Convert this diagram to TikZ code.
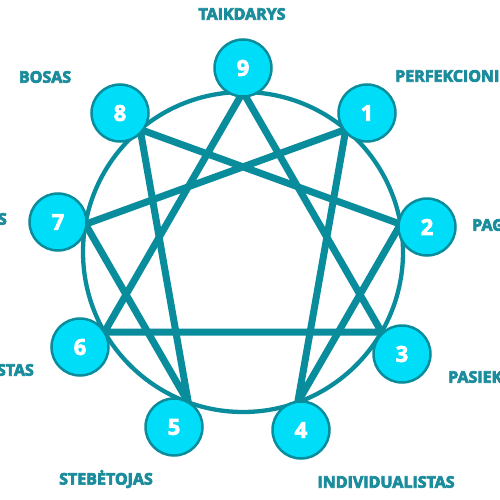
\documentclass[tikz,border=0pt]{standalone}
\usepackage{fontspec}
\setmainfont{Open Sans}
\newcommand{\emb}[1]{\special{pdf:literal direct 2 Tr 0.7 w}#1\special{pdf:literal direct 0 Tr}}
\definecolor{teal1}{HTML}{098D9C}
\definecolor{txt}{HTML}{1A8C9B}
\definecolor{cyan1}{HTML}{00DDF8}
\tikzset{
  num/.style={circle, draw=teal1, line width=2.5pt, fill=cyan1, minimum size=57pt, inner sep=0pt, text=white, font=\bfseries\fontsize{22}{22}\selectfont},
  lbl/.style={text=txt, font=\bfseries\fontsize{16}{16}\selectfont, inner sep=0pt},
  star/.style={draw=teal1, line width=7pt, line join=round, line cap=round},
  ring/.style={draw=teal1, line width=4.3pt}
}
\begin{document}
\begin{tikzpicture}[x=1pt,y=-1pt]
\useasboundingbox (0,0) rectangle (500,500);
\clip (0,0) rectangle (500,500);
\fill[white] (0,0) rectangle (500,500);
% vertices on the ring
\foreach \k in {0,...,8} {
  \coordinate (v\k) at ({243+160*cos(90-40*\k)}, {252-160*sin(90-40*\k)});
}
\coordinate (ctr) at (243,252);
\node[ring, circle, minimum size=320pt, inner sep=0pt] (ringnode) at (ctr) {};
% triangle 3-6-9
\draw[star] (v0) -- (v3) -- (v6) -- cycle;
% hexad 1-4-2-8-5-7-1
\draw[star] (v1) -- (v4) -- (v2) -- (v8) -- (v5) -- (v7) -- cycle;
% number circles
\node[num] (n9) at (243,68) {\emb{9}};
\node[num] (n1) at (367,113) {\emb{1}};
\node[num] (n2) at (427,227) {\emb{2}};
\node[num] (n3) at (402,354) {\emb{3}};
\node[num] (n4) at (301,430) {\emb{4}};
\node[num] (n5) at (174,427) {\emb{5}};
\node[num] (n6) at (80,347) {\emb{6}};
\node[num] (n7) at (58,222) {\emb{7}};
\node[num] (n8) at (120,113) {\emb{8}};
% labels
\node[lbl] (l9) at (242,14) {\emb{TAIKDARYS}};
\node[lbl] (l8) at (45,77) {\emb{BOSAS}};
\node[lbl, anchor=west] (l1) at (395,76) {\emb{PERFEKCIONI}};
\node[lbl, anchor=west] (l2) at (472,225) {\emb{PAG}};
\node[lbl, anchor=west] (l3) at (448,377) {\emb{PASIEK}};
\node[lbl, anchor=east] (l7) at (7,219) {\emb{S}};
\node[lbl, anchor=east] (l6) at (34,370) {\emb{STAS}};
\node[lbl] (l5) at (106,479) {\emb{STEBĖTOJAS}};
\node[lbl] (l4) at (386,482) {\emb{INDIVIDUALISTAS}};
\end{tikzpicture}
\end{document}
